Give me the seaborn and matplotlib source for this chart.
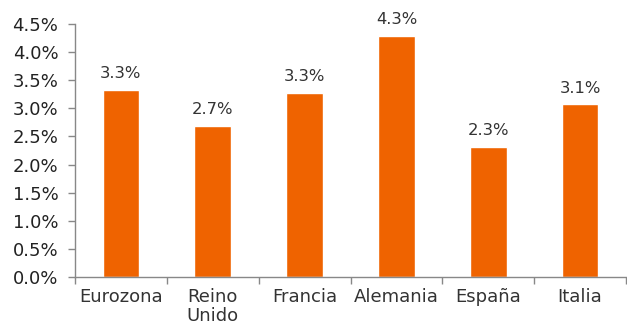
import matplotlib
matplotlib.use("Agg")
import matplotlib.pyplot as plt
import seaborn as sns
import pandas as pd
from matplotlib.ticker import FuncFormatter

categories = ["Eurozona", "Reino\nUnido", "Francia", "Alemania", "España", "Italia"]
values = [3.33, 2.69, 3.28, 4.29, 2.31, 3.07]
y_ticks = [0.0, 0.5, 1.0, 1.5, 2.0, 2.5, 3.0, 3.5, 4.0, 4.5]

sns.set_theme(style="white")
plt.rcParams["font.family"] = ["DejaVu Sans"]

df = pd.DataFrame({"pais": categories, "valor": values})

fig = plt.figure(figsize=(6.27, 3.27), dpi=100)
ax = fig.add_axes([75 / 627, 1 - 277 / 327, 551 / 627, (277 - 24) / 327])

sns.barplot(data=df, x="pais", y="valor", color="#EF6300", width=0.4,
            saturation=1, ax=ax)

for i, v in enumerate(values):
    ax.text(i, v + 0.21, f"{v:.1f}%", ha="center", va="baseline",
            fontsize=11.8, color="#333333")

ax.set_ylim(0, 4.5)
ax.set_yticks(y_ticks)
ax.yaxis.set_major_formatter(FuncFormatter(lambda y, _: f"{y:.1f}%"))
ax.set_xlim(-0.5, len(categories) - 0.5)
ax.set_xticks(range(len(categories)))
ax.set_xticklabels(categories, linespacing=1.05)
ax.set_xlabel("")
ax.set_ylabel("")

# category boundary ticks on the x axis
ax.set_xticks([i - 0.5 for i in range(len(categories) + 1)], minor=True)
ax.tick_params(axis="x", which="major", length=0, pad=8, labelsize=13,
               labelcolor="#333333")
ax.tick_params(axis="x", which="minor", length=5, width=1, color="#888888",
               direction="out", bottom=True)
ax.tick_params(axis="y", length=5, width=1, color="#888888", direction="out",
               left=True, labelsize=13, labelcolor="#222222", pad=7)

for side in ["top", "right"]:
    ax.spines[side].set_visible(False)
for side in ["left", "bottom"]:
    ax.spines[side].set_color("#888888")
    ax.spines[side].set_linewidth(1)

fig.savefig("out.png", dpi=100)
